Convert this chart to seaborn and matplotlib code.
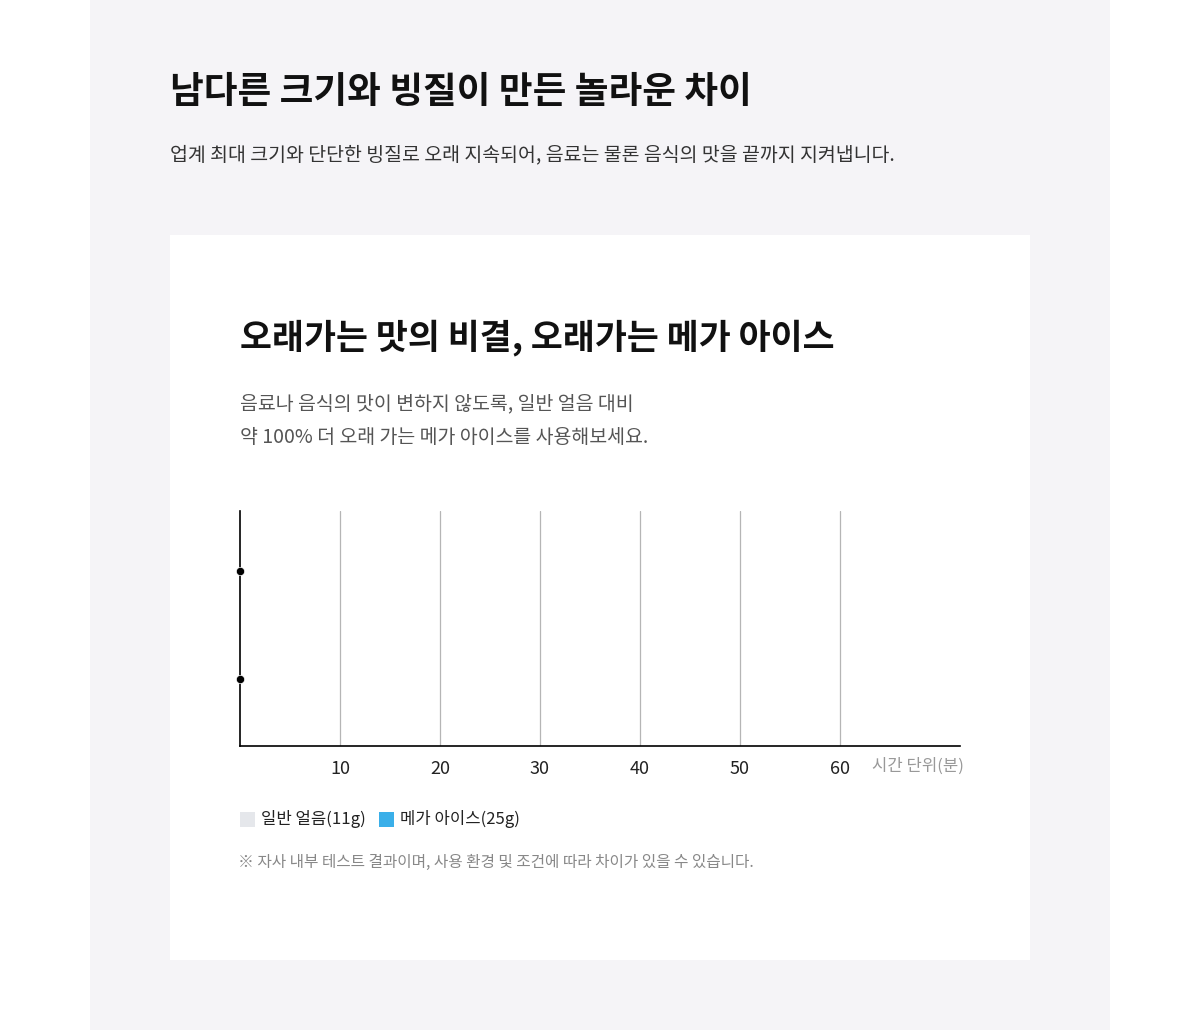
import matplotlib
matplotlib.use("Agg")
import matplotlib.pyplot as plt
from matplotlib.patches import Rectangle
import seaborn as sns
import pandas as pd

# data
series = ["일반 얼음(11g)", "메가 아이스(25g)"]
minutes = [0, 0]
series_colors = ["#e5e7eb", "#3aafe9"]
xticks = [10, 20, 30, 40, 50, 60]

title = "남다른 크기와 빙질이 만든 놀라운 차이"
subtitle = "업계 최대 크기와 단단한 빙질로 오래 지속되어, 음료는 물론 음식의 맛을 끝까지 지켜냅니다."
card_title = "오래가는 맛의 비결, 오래가는 메가 아이스"
card_body = ["음료나 음식의 맛이 변하지 않도록, 일반 얼음 대비",
             "약 100% 더 오래 가는 메가 아이스를 사용해보세요."]
unit_label = "시간 단위(분)"
footnote = "※ 자사 내부 테스트 결과이며, 사용 환경 및 조건에 따라 차이가 있을 수 있습니다."

sns.set_theme(style="white")
plt.rcParams["font.family"] = ["Noto Sans CJK KR", "DejaVu Sans"]

W, H = 1200, 1030
fig = plt.figure(figsize=(12, 10.3), dpi=100)
fig.patch.set_facecolor("white")


def px(x, y):
    return x / W, 1 - y / H


# background panels
fig.patches.append(Rectangle(px(90, 1030), 1020 / W, 1030 / H, transform=fig.transFigure,
                             facecolor="#f5f4f7", edgecolor="none", zorder=-2))
fig.patches.append(Rectangle(px(170, 960), 860 / W, 725 / H, transform=fig.transFigure,
                             facecolor="white", edgecolor="none", zorder=-1))

fig.text(*px(170, 93), title, fontsize=26.4, fontweight="bold", color="#111111", va="center")
fig.text(*px(170, 155), subtitle, fontsize=14, color="#333333", va="center")
fig.text(*px(240, 338), card_title, fontsize=25, fontweight="bold", color="#111111", va="center")
fig.text(*px(240, 404), card_body[0], fontsize=14, color="#555555", va="center")
fig.text(*px(240, 438), card_body[1], fontsize=14, color="#555555", va="center")

ax = fig.add_axes([240 / W, 1 - 746 / H, 720 / W, 235 / H])
ax.set_facecolor("white")
df = pd.DataFrame({"series": series, "minutes": minutes})
sns.barplot(data=df, x="minutes", y="series", hue="series", palette=series_colors,
            orient="h", width=0.3, legend=False, ax=ax)
sns.scatterplot(data=df, x="minutes", y="series", color="black", s=35, zorder=5,
                clip_on=False, ax=ax, legend=False)

ax.set_xlim(0, 72)
ax.set_ylim(1.62, -0.556)
ax.set_xticks(xticks)
ax.set_xticklabels([str(t) for t in xticks], fontsize=13, color="#222222")
ax.set_yticks([])
ax.set_xlabel("")
ax.set_ylabel("")
ax.tick_params(axis="x", length=0, pad=10)
for xt in xticks:
    ax.axvline(xt, color="#b5b5b5", lw=0.9, zorder=0)
for s in ["top", "right"]:
    ax.spines[s].set_visible(False)
for s in ["left", "bottom"]:
    ax.spines[s].set_color("black")
    ax.spines[s].set_linewidth(1.2)

fig.text(*px(872, 766), unit_label, fontsize=12, color="#999999", va="center")

# legend
lx = 240
for name, col in zip(series, series_colors):
    fig.patches.append(Rectangle(px(lx, 827), 15 / W, 15 / H, transform=fig.transFigure,
                                 facecolor=col, edgecolor="none"))
    fig.text(*px(lx + 21, 819), name, fontsize=12, color="#222222", va="center")
    lx += 139

fig.text(*px(238, 862), footnote, fontsize=11.3, color="#888888", va="center")

fig.savefig("out.png", dpi=100, facecolor=fig.get_facecolor())
